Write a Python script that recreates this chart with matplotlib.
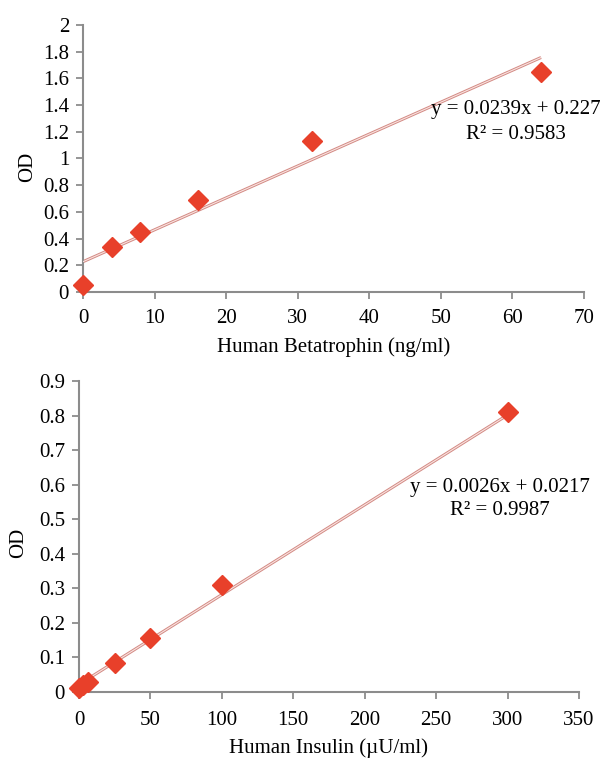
import numpy as np
import matplotlib.pyplot as plt

## data
beta_conc = [0, 4, 8, 16, 32, 64]
beta_od = [0.05, 0.34, 0.45, 0.69, 1.13, 1.65]
beta_slope, beta_icpt, beta_r2 = 0.0239, 0.227, 0.9583

ins_conc = [0, 3.125, 6.25, 25, 50, 100, 300]
ins_od = [0.012, 0.02, 0.03, 0.085, 0.155, 0.31, 0.81]
ins_slope, ins_icpt, ins_r2 = 0.0026, 0.0217, 0.9987

## style
font_size = 15
plt.rcParams['font.family'] = ['Liberation Serif', 'DejaVu Serif']
axis_grey = '#8c8c8c'
mark_red = '#e8402a'

fig = plt.figure(figsize=(6.04, 7.62), dpi=100)


def panel(rect, x, y, slope, icpt, r2, xmax, xstep, ymax, ystep, xlabel,
          eq_xy, r2_dy, yfmt, tick_pad, xlabelpad, ylab_xy):
    ax = fig.add_axes(rect)
    x = np.array(x)
    fit_x = np.array([x.min(), x.max()])
    fit_y = slope * fit_x + icpt
    # trendline drawn as a thin double line like the excel one
    ax.plot(fit_x, fit_y, color='#d38a84', lw=2.2, zorder=2, solid_capstyle='butt')
    ax.plot(fit_x, fit_y, color='#f9e3e0', lw=0.8, zorder=3, solid_capstyle='butt')
    ax.plot(x, y, 'D', color=mark_red, ms=10, mec=mark_red, zorder=4, clip_on=False)

    ax.set_xlim(0, xmax)
    ax.set_ylim(0, ymax)
    ax.set_xticks(np.arange(0, xmax + xstep / 2, xstep))
    yt = np.arange(0, ymax + ystep / 2, ystep)
    ax.set_yticks(yt)
    ax.set_yticklabels([yfmt(v) for v in yt])
    for s in ['top', 'right']:
        ax.spines[s].set_visible(False)
    for s in ['left', 'bottom']:
        ax.spines[s].set_color(axis_grey)
        ax.spines[s].set_linewidth(1.5)
    ax.tick_params(direction='out', length=5, width=1.3, color=axis_grey,
                   labelsize=font_size)
    ax.tick_params(axis='x', pad=tick_pad)
    ax.tick_params(axis='y', pad=5)
    ax.set_xlabel(xlabel, fontsize=font_size, labelpad=xlabelpad)
    ax.set_ylabel('OD', fontsize=font_size)
    ax.yaxis.set_label_coords(ylab_xy[0], ylab_xy[1])
    ax.text(eq_xy[0], eq_xy[1], 'y = %sx + %s' % (slope, icpt),
            transform=ax.transAxes, ha='center', va='center', fontsize=font_size)
    ax.text(eq_xy[0], eq_xy[1] - r2_dy, 'R² = %s' % r2,
            transform=ax.transAxes, ha='center', va='center', fontsize=font_size)
    return ax


def fmt_top(v):
    v = round(v, 1)
    return '%d' % v if v == int(v) else '%.1f' % v


def fmt_bot(v):
    v = round(v, 1)
    return '0' if v == 0 else '%.1f' % v


panel([0.1374, 0.6168, 0.8295, 0.3504], beta_conc, beta_od, beta_slope,
      beta_icpt, beta_r2, 70, 10, 2.0, 0.2, 'Human Betatrophin (ng/ml)',
      (0.864, 0.682), 0.094, fmt_top, 7, 7, (-0.092, 0.47))
panel([0.1308, 0.0919, 0.8278, 0.4081], ins_conc, ins_od, ins_slope,
      ins_icpt, ins_r2, 350, 50, 0.9, 0.1, 'Human Insulin (\u00b5U/ml)',
      (0.842, 0.659), 0.074, fmt_bot, 9, 6, (-0.102, 0.48))

plt.savefig('out.png', dpi=100)
